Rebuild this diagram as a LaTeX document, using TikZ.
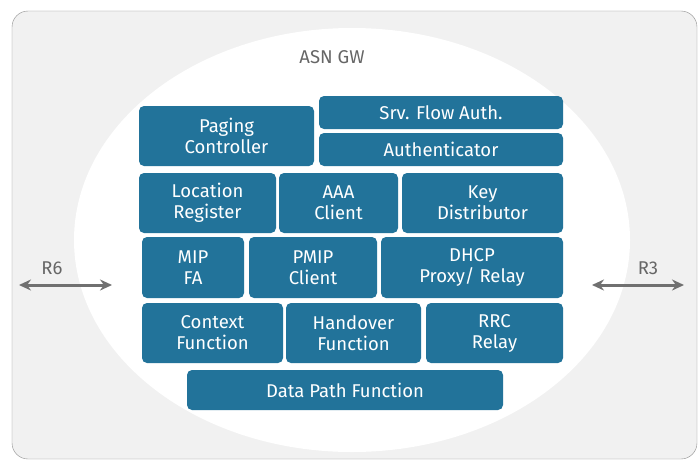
\documentclass[tikz,border=0pt]{standalone}
\usepackage{fontspec}
\setmainfont{Fira Sans}
\usetikzlibrary{arrows.meta}
\definecolor{GwBlue}{HTML}{22739A}
\definecolor{GwFrame}{HTML}{F1F1F1}
\definecolor{GwLine}{HTML}{8C8C8C}
\definecolor{GwArrow}{HTML}{707070}
\definecolor{GwText}{HTML}{666666}

\begin{document}
\begin{tikzpicture}[x=1pt, y=-1pt,
    every node/.style={font=\fontsize{18.5}{21}\selectfont},
    block/.style={fill=GwBlue, text=white, align=center, rounded corners=5pt, inner sep=0pt},
    tag/.style={text=GwText},
    iface/.style={{Stealth[length=12pt,width=11pt]}-{Stealth[length=12pt,width=11pt]}, line width=3pt, GwArrow}]
    \useasboundingbox (0,0) rectangle (700,460);
    \draw[GwLine, fill=GwFrame, rounded corners=16pt] (12,11) rectangle (697,459);
    \fill[white] (352,240) ellipse [x radius=278, y radius=212];

    \node[tag] (asngw) at (332,57) {ASN GW};

    % top rows
    \node[block, minimum width=175, minimum height=60] (paging) at (226.5,136) {Paging\\Controller};
    \node[block, minimum width=244, minimum height=33] (sfauth) at (441,112.5) {Srv. Flow Auth.};
    \node[block, minimum width=244, minimum height=33] (authn) at (441,149.5) {Authenticator};

    \node[block, minimum width=137, minimum height=60] (locreg) at (207.5,203) {Location\\Register};
    \node[block, minimum width=119, minimum height=60] (aaa) at (338.5,203) {AAA\\Client};
    \node[block, minimum width=161, minimum height=60] (keydist) at (482.5,203) {Key\\Distributor};

    % middle rows
    \node[block, minimum width=102, minimum height=61] (mipfa) at (193,267.5) {MIP\\FA};
    \node[block, minimum width=128, minimum height=61] (pmip) at (313,267.5) {PMIP\\Client};
    \node[block, minimum width=182, minimum height=61] (dhcp) at (472,267.5) {DHCP\\Proxy/ Relay};

    \node[block, minimum width=141, minimum height=60] (context) at (212.5,333) {Context\\Function};
    \node[block, minimum width=135, minimum height=60] (handover) at (353.5,333) {Handover\\Function};
    \node[block, minimum width=137, minimum height=60] (rrc) at (494.5,333) {RRC\\Relay};

    \node[block, minimum width=316, minimum height=40] (datapath) at (345,390) {Data Path Function};

    % reference points
    \node[tag] (rsix) at (52,268) {R6};
    \node[tag] (rthree) at (648,268) {R3};
    \coordinate (rsixL) at (19,285);
    \coordinate (rsixR) at (112,285);
    \coordinate (rthreeL) at (592,285);
    \coordinate (rthreeR) at (684,285);
    \draw[iface] (rsixL) -- (rsixR);
    \draw[iface] (rthreeL) -- (rthreeR);
\end{tikzpicture}
\end{document}
